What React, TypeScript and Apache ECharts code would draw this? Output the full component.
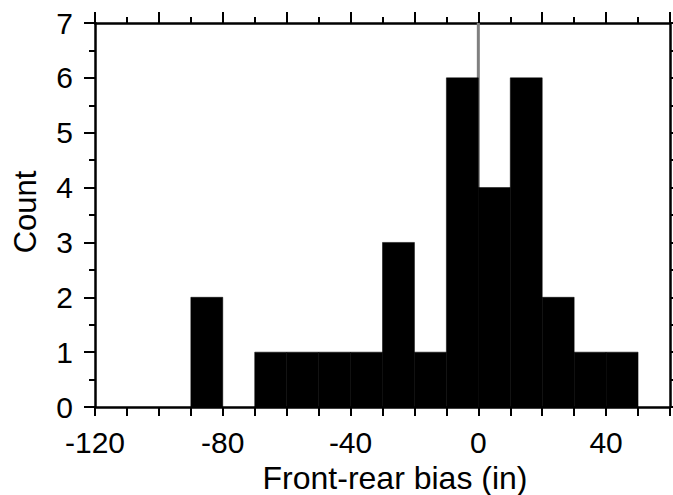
import React, { useEffect, useRef } from "react";
import * as echarts from "echarts";

// Histogram bins (left edge, right edge) and counts
const binStarts = [-90, -80, -70, -60, -50, -40, -30, -20, -10, 0, 10, 20, 30, 40];
const binWidth = 10;
const counts = [2, 0, 1, 1, 1, 1, 3, 1, 6, 4, 6, 2, 1, 1];

const xTickLabels = [-120, -80, -40, 0, 40];
const yTickLabels = [0, 1, 2, 3, 4, 5, 6, 7];

const refLine = [
  [0, 0],
  [0, 7],
];

const FONT = "'Liberation Sans', Arial, Helvetica, sans-serif";

export default function App() {
  const ref = useRef<HTMLDivElement>(null);
  useEffect(() => {
    if (!ref.current) return;
    const chart = echarts.init(ref.current, null, { renderer: "svg" });
    const barData = binStarts.map((s, i) => [s, s + binWidth, counts[i]]);
    const axisLine = { show: true, onZero: false, lineStyle: { color: "#000", width: 2.5 } };
    chart.setOption({
      animation: false,
      backgroundColor: "#fff",
      grid: { left: 95, top: 23, right: 2, bottom: 88, containLabel: false },
      xAxis: [
        {
          type: "value",
          position: "bottom",
          min: -120,
          max: 60,
          interval: 10,
          axisLine,
          axisTick: { show: true, length: 9, inside: false, lineStyle: { color: "#000", width: 2 } },
          axisLabel: {
            show: true,
            margin: 20,
            fontSize: 30,
            fontFamily: FONT,
            color: "#000",
            formatter: (v: number) => (xTickLabels.includes(v) ? String(v) : ""),
          },
          splitLine: { show: false },
        },
        {
          type: "value",
          position: "top",
          min: -120,
          max: 60,
          interval: 20,
          axisLine,
          axisTick: { show: true, length: 11, inside: false, lineStyle: { color: "#000", width: 2 } },
          minorTick: { show: true, splitNumber: 2, length: 6, lineStyle: { color: "#000", width: 2 } },
          axisLabel: { show: false },
          splitLine: { show: false },
        },
      ],
      yAxis: [
        {
          type: "value",
          position: "left",
          min: 0,
          max: 7,
          interval: 1,
          axisLine,
          axisTick: { show: true, length: 11, inside: false, lineStyle: { color: "#000", width: 2 } },
          minorTick: { show: true, splitNumber: 2, length: 6, lineStyle: { color: "#000", width: 2 } },
          axisLabel: {
            show: true,
            margin: 22,
            fontSize: 30,
            fontFamily: FONT,
            color: "#000",
            formatter: (v: number) => (yTickLabels.includes(v) ? String(v) : ""),
          },
          splitLine: { show: false },
        },
        {
          type: "value",
          position: "right",
          min: 0,
          max: 7,
          interval: 1,
          axisLine,
          axisTick: { show: true, length: 5, inside: false, lineStyle: { color: "#000", width: 2 } },
          minorTick: { show: true, splitNumber: 2, length: 5, lineStyle: { color: "#000", width: 2 } },
          axisLabel: { show: false },
          splitLine: { show: false },
        },
      ],
      graphic: [
        {
          type: "text",
          x: 25,
          y: 212,
          rotation: Math.PI / 2,
          style: {
            text: "Count",
            fontSize: 31,
            fontFamily: FONT,
            fill: "#000",
            align: "center",
            verticalAlign: "middle",
          },
        },
        {
          type: "text",
          x: 395,
          y: 478,
          style: {
            text: "Front-rear bias (in)",
            fontSize: 32,
            fontFamily: FONT,
            fill: "#000",
            align: "center",
            verticalAlign: "middle",
          },
        },
      ],
      series: [
        {
          type: "line",
          data: refLine,
          xAxisIndex: 0,
          yAxisIndex: 0,
          symbol: "none",
          lineStyle: { color: "#808080", width: 3 },
          z: 1,
          silent: true,
        },
        {
          type: "custom",
          xAxisIndex: 0,
          yAxisIndex: 0,
          z: 2,
          data: barData,
          encode: { x: [0, 1], y: 2 },
          renderItem: (params: any, api: any) => {
            const x0 = api.value(0);
            const x1 = api.value(1);
            const c = api.value(2);
            if (!c) return null;
            const p0 = api.coord([x0, c]);
            const p1 = api.coord([x1, 0]);
            return {
              type: "rect",
              shape: { x: p0[0], y: p0[1], width: p1[0] - p0[0], height: p1[1] - p0[1] },
              style: { fill: "#000", stroke: "#000", lineWidth: 0.5 },
            };
          },
        },
      ],
    });
    return () => chart.dispose();
  }, []);
  return (
    <div
      ref={ref}
      style={{ position: "fixed", left: 0, top: 0, width: 673, height: 495 }}
    />
  );
}
